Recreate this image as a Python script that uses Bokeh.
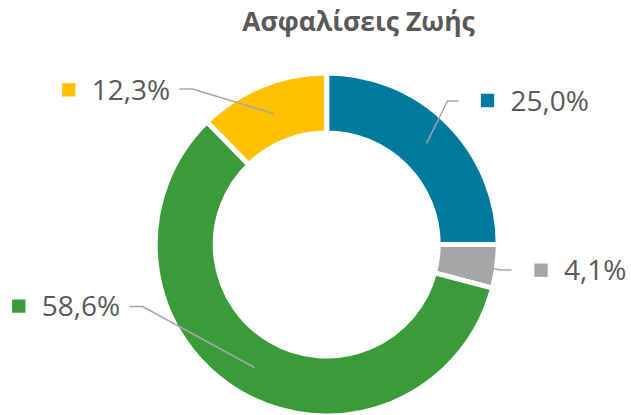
import math
from bokeh.plotting import figure
from bokeh.models import Range1d, ColumnDataSource
from bokeh.core.properties import value
from bokeh.embed import file_html
from bokeh.resources import INLINE

# ---- data ----
title_text = "Ασφαλίσεις Ζωής"
categories = ["A", "B", "C", "D"]
shares = [25.0, 4.1, 58.6, 12.3]
colors = ["#017B9D", "#A6A6A6", "#3A9B39", "#FFC000"]

# ---- layout (screen pixel positions of label keys, leader lines) ----
W, H = 631, 415
def sy(y):  # screen y -> data y
    return 415 - y

cx, cy = 326.2, sy(244)
r_out, r_in, gap = 171.5, 111.5, 5

label_key_pos = [(487, 100), (540.5, 269.7), (18.3, 305.7), (68.3, 89.3)]
leaders = [
    [(458, 100.5), (447, 100.5), (426, 143)],
    [(511, 269.5), (500, 269.5), (493, 268)],
    [(129, 306), (142, 306), (254, 367)],
    [(179, 88.5), (192, 88.5), (273, 113)],
]

p = figure(width=W, height=H, output_backend="svg", toolbar_location=None,
           x_range=Range1d(0, W), y_range=Range1d(0, H),
           x_axis_type=None, y_axis_type=None, min_border=0)
p.outline_line_color = None
p.grid.visible = False
p.background_fill_color = "white"
p.border_fill_color = "white"

total = sum(shares)
starts, ends = [], []
cum = 0.0
for v in shares:
    starts.append(math.pi / 2 - 2 * math.pi * cum / total)
    cum += v
    ends.append(math.pi / 2 - 2 * math.pi * cum / total)

src = ColumnDataSource(dict(cat=categories, start=starts, end=ends, color=colors))
p.annular_wedge(x=cx, y=cy, inner_radius=r_in, outer_radius=r_out,
                start_angle="start", end_angle="end", direction="clock",
                fill_color="color", line_color="white", line_width=gap, source=src)

# leader lines
for pts in leaders:
    p.line([q[0] for q in pts], [sy(q[1]) for q in pts], line_color="#A6A6A6", line_width=1.5)

# label keys + texts
labels = [f"{v:.1f}".replace(".", ",") + "%" for v in shares]
kx = [q[0] for q in label_key_pos]
ky = [sy(q[1]) for q in label_key_pos]
p.scatter(x=kx, y=ky, marker="square", size=13.3, fill_color=colors, line_color=None)
p.text(x=[x + 23 for x in kx], y=[y + 1 for y in ky], text=labels,
       text_font=value("Open Sans"), text_font_size="28px", text_color="#595959",
       text_align="left", text_baseline="alphabetic")

# title
p.text(x=[358], y=[sy(20)], text=[title_text], text_font=value("Open Sans"),
       text_font_size="26.5px", text_font_style="bold", text_color="#595959",
       text_align="center", text_baseline="alphabetic")

open("out.html", "w").write(file_html(p, INLINE))
